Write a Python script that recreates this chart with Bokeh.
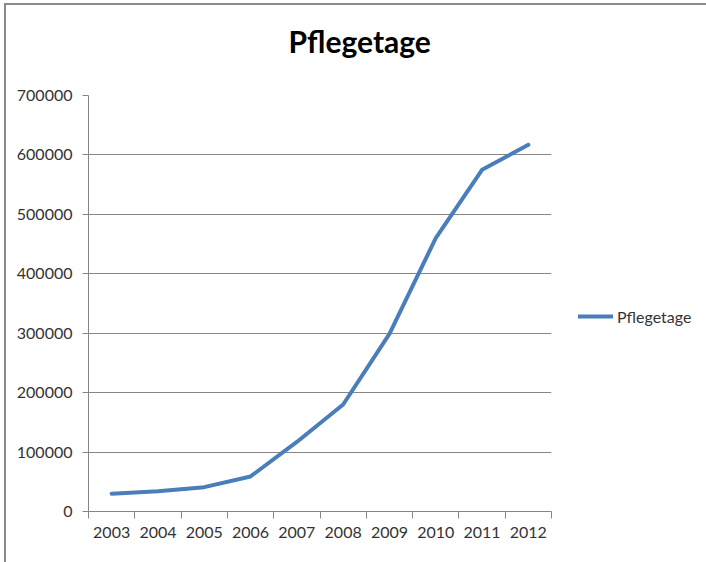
from bokeh.plotting import figure
from bokeh.models import Range1d, FixedTicker, Legend, LegendItem, NumeralTickFormatter
from bokeh.embed import file_html
from bokeh.resources import INLINE

# Nursing days per year
years = ["2003", "2004", "2005", "2006", "2007", "2008", "2009", "2010", "2011", "2012"]
pflegetage = [30000, 34000, 41000, 59000, 117000, 180000, 299000, 460000, 575000, 617000]
y_ticks = [0, 100000, 200000, 300000, 400000, 500000, 600000, 700000]

FONT = "Lato"
GRID = "#868686"
TEXT = "#333333"
BLUE = "#4a7ebb"

# category slots: each year sits in the middle of a unit-wide slot
x_pos = [i + 0.5 for i in range(len(years))]
slot_edges = list(range(len(years) + 1))

p = figure(
    width=700, height=557,
    frame_width=463, frame_height=416,
    output_backend="svg", toolbar_location=None,
    x_range=Range1d(0, len(years)), y_range=Range1d(0, 700000),
    min_border_left=82, min_border_right=0, min_border_top=90, min_border_bottom=51,
    styles={"margin-left": "4px", "margin-top": "3px",
            "border-top": "2px solid #8a8a8a", "border-left": "2px solid #8a8a8a"},
)
p.outline_line_color = None
p.background_fill_color = "white"
p.border_fill_color = "white"

# title
p.title.text = "Pflegetage"
p.title.align = "left"
p.title.offset = 200
p.title.standoff = 10
p.title.padding = (0, 0, 0, 32)
p.title.text_font = FONT
p.title.text_font_size = "30px"
p.title.text_font_style = "bold"
p.title.text_color = "#000000"

# y axis
p.yaxis.ticker = FixedTicker(ticks=y_ticks)
p.yaxis.formatter = NumeralTickFormatter(format="0")
p.yaxis.axis_line_color = GRID
p.yaxis.major_tick_line_color = GRID
p.yaxis.major_tick_out = 6
p.yaxis.major_tick_in = 0
p.yaxis.minor_tick_line_color = None
p.yaxis.major_label_standoff = 10
p.yaxis.major_label_text_font = FONT
p.yaxis.major_label_text_font_size = "16px"
p.yaxis.major_label_text_color = TEXT

# x axis: labels centred in slots, tick marks on slot edges
p.xaxis.ticker = FixedTicker(ticks=x_pos, minor_ticks=slot_edges)
p.xaxis.major_label_overrides = {x: y for x, y in zip(x_pos, years)}
p.xaxis.axis_line_color = GRID
p.xaxis.major_tick_line_color = None
p.xaxis.minor_tick_line_color = GRID
p.xaxis.minor_tick_out = 7
p.xaxis.minor_tick_in = 0
p.xaxis.major_label_standoff = 8
p.xaxis.major_label_text_font = FONT
p.xaxis.major_label_text_font_size = "16px"
p.xaxis.major_label_text_color = TEXT

p.xgrid.visible = False
p.ygrid.grid_line_color = GRID
p.ygrid.grid_line_width = 1

r = p.line(x_pos, pflegetage, line_width=4, line_color=BLUE,
           line_join="round", line_cap="round")

legend = Legend(
    items=[LegendItem(label="Pflegetage", renderers=[r])],
    location=(27, 185),
    glyph_width=35, glyph_height=20, label_standoff=4,
    padding=0, margin=0, spacing=0,
    border_line_color=None, background_fill_alpha=0,
    label_text_font=FONT, label_text_font_size="16px", label_text_color=TEXT,
)
p.add_layout(legend, "right")

open("out.html", "w").write(file_html(p, INLINE))
